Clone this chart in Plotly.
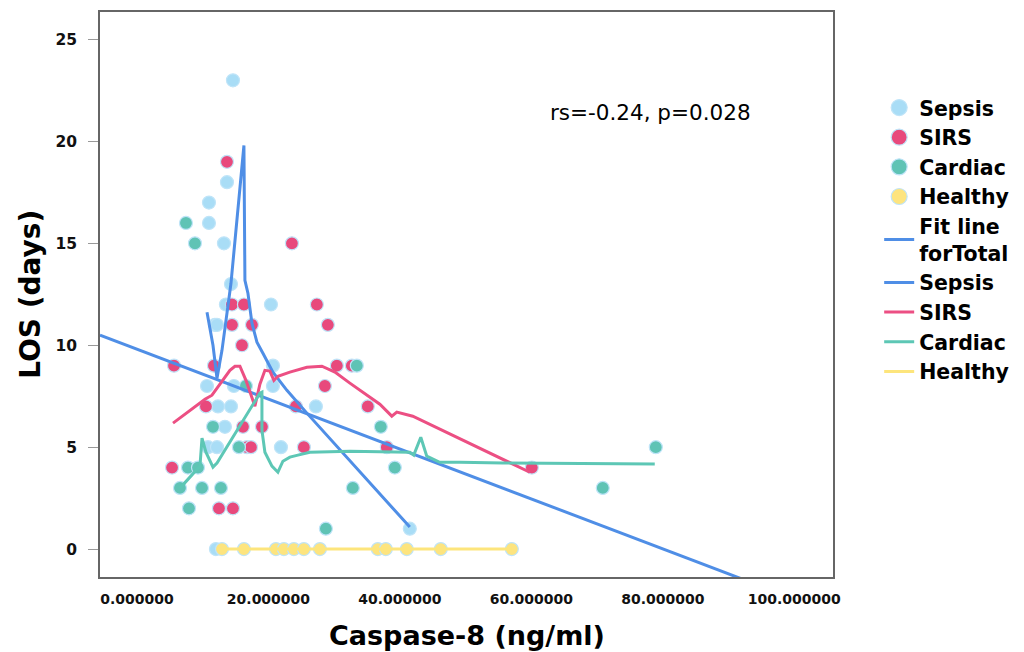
import plotly.graph_objects as go

# ---------------- data ----------------
sepsis_x = [14.60, 13.69, 10.95, 10.95, 13.23, 14.30, 13.53, 20.38, 11.86, 12.17,
            20.68, 10.65, 14.74, 20.68, 12.32, 14.30, 27.22, 13.38, 10.80, 12.17,
            21.90, 41.51, 12.01]
sepsis_y = [23, 18, 17, 16, 15, 13, 12, 12, 11, 11,
            9, 8, 8, 8, 7, 7, 7, 6, 5, 5,
            5, 1, 0]

sirs_x = [13.69, 23.57, 14.45, 16.27, 27.37, 14.45, 17.49, 29.04, 15.97, 5.63,
          11.71, 30.41, 32.69, 28.59, 10.49, 24.18, 35.12, 16.12, 19.01, 16.73,
          17.34, 25.39, 38.01, 5.33, 60.08, 12.47, 14.60]
sirs_y = [19, 15, 12, 12, 12, 11, 11, 11, 10, 9,
          9, 9, 9, 8, 7, 7, 7, 6, 6, 5,
          5, 5, 5, 4, 4, 2, 2]

cardiac_x = [7.45, 8.82, 33.45, 16.58, 11.56, 37.10, 15.51, 78.94, 7.76, 9.28,
             39.23, 6.54, 9.89, 12.77, 32.84, 70.87, 7.91, 28.74]
cardiac_y = [16, 15, 9, 8, 6, 6, 5, 5, 4, 4,
             4, 3, 3, 3, 3, 3, 2, 1]

healthy_x = [12.93, 16.27, 21.14, 22.35, 23.87, 25.39, 27.83, 36.64, 37.86, 41.05,
             46.22, 57.03]
healthy_y = [0, 0, 0, 0, 0, 0, 0, 0, 0, 0, 0, 0]

# smoothed (loess-like) group curves
sepsis_fit_x = [10.65, 11.56, 12.17, 12.93, 14.30, 16.27, 16.42, 16.88, 17.49, 18.25,
                19.16, 20.68, 22.81, 25.85, 41.51]
sepsis_fit_y = [11.62, 10.0, 8.38, 9.75, 13.04, 19.80, 13.19, 12.55, 11.08, 10.15,
                9.61, 8.68, 7.79, 6.67, 1.08]

sirs_fit_x = [5.48, 8.06, 10.34, 11.41, 14.14, 14.90, 15.66, 16.58, 17.94, 18.70,
              19.46, 20.22, 20.83, 21.44, 23.26, 25.85, 28.13, 30.11, 32.39, 36.95,
              38.77, 39.53, 41.96, 59.77]
sirs_fit_y = [6.18, 6.81, 7.35, 7.55, 8.77, 8.97, 8.97, 8.28, 7.01, 8.09,
              8.77, 8.73, 8.28, 8.48, 8.68, 8.92, 8.97, 8.68, 8.14, 7.11,
              6.52, 6.72, 6.52, 3.77]

cardiac_fit_x = [6.54, 9.58, 9.89, 10.49, 11.56, 12.17, 18.70, 19.01, 19.01, 19.46,
                 20.53, 21.44, 22.20, 23.26, 24.48, 26.30, 32.39, 41.51, 42.11, 43.18,
                 44.09, 46.07, 49.11, 55.67, 78.78]
cardiac_fit_y = [2.99, 4.07, 5.44, 4.75, 4.02, 4.22, 7.65, 7.70, 5.83, 4.75,
                 4.07, 3.77, 4.31, 4.51, 4.61, 4.75, 4.80, 4.75, 4.61, 5.49,
                 4.56, 4.26, 4.26, 4.22, 4.17]

# total linear fit
fit_intercept = 9.81
fit_slope = -0.1225

x_range = [-5.63, 105.9]
y_range = [-1.37, 26.35]
x_ticks = [0, 20, 40, 60, 80, 100]
y_ticks = [0, 5, 10, 15, 20, 25]

annotation_text = "rs=-0.24, p=0.028"

# ---------------- styling ----------------
C_SEPSIS = "#a9ddf6"
C_SIRS = "#e8497c"
C_CARDIAC = "#5fc3b5"
C_HEALTHY = "#fde47f"
L_BLUE = "#4f8ee6"
L_SIRS = "#ec4f83"
L_CARDIAC = "#5dc7b5"
L_HEALTHY = "#fde57c"
OUTLINE = "#bfe4f8"
FONT = "DejaVu Sans"

fig = go.Figure()

groups = [("Sepsis", sepsis_x, sepsis_y, C_SEPSIS),
          ("SIRS", sirs_x, sirs_y, C_SIRS),
          ("Cardiac", cardiac_x, cardiac_y, C_CARDIAC),
          ("Healthy", healthy_x, healthy_y, C_HEALTHY)]

# legend entries for the point groups (larger symbols, as in the reference)
for name, x, y, color in groups:
    fig.add_trace(go.Scatter(
        x=[None], y=[None], mode="markers", name=name,
        marker=dict(size=22, color=color, line=dict(color=OUTLINE, width=1.2)),
    ))

for name, x, y, color in groups:
    fig.add_trace(go.Scatter(
        x=x, y=y, mode="markers", name=name, showlegend=False,
        marker=dict(size=13, color=color, line=dict(color=OUTLINE, width=1.2)),
    ))

fit_x = [x_range[0], x_range[1]]
fit_y = [fit_intercept + fit_slope * v for v in fit_x]
fig.add_trace(go.Scatter(x=fit_x, y=fit_y, mode="lines", name="Fit line<br>forTotal",
                         line=dict(color=L_BLUE, width=3)))

def curve(x, y, color, name):
    fig.add_trace(go.Scatter(x=x, y=y, mode="lines", name=name,
                             line=dict(color=color, width=3)))

curve(sepsis_fit_x, sepsis_fit_y, L_BLUE, "Sepsis")
curve(sirs_fit_x, sirs_fit_y, L_SIRS, "SIRS")
curve(cardiac_fit_x, cardiac_fit_y, L_CARDIAC, "Cardiac")
curve([min(healthy_x), max(healthy_x)], [healthy_y[0], healthy_y[-1]], L_HEALTHY, "Healthy")

fig.update_layout(
    width=1008, height=644,
    margin=dict(l=92, r=183, t=4, b=75, autoexpand=False),
    paper_bgcolor="white", plot_bgcolor="white",
    showlegend=True,
    legend=dict(
        x=1.063, y=0.866, xanchor="left", yanchor="top",
        font=dict(family=FONT, size=20.5, color="black", weight="bold"),
        bgcolor="rgba(0,0,0,0)", tracegroupgap=0, itemwidth=30,
    ),
    xaxis=dict(
        range=x_range, tickvals=x_ticks,
        ticktext=[f"{v:.6f}" for v in x_ticks],
        showgrid=False, zeroline=False,
        showline=True, mirror=True, linecolor="#666666", linewidth=1.5,
        ticks="", ticklabelstandoff=8,
        tickfont=dict(family=FONT, size=14, color="#111111", weight="bold"),
    ),
    yaxis=dict(
        range=y_range, tickvals=y_ticks,
        showgrid=False, zeroline=False,
        showline=True, mirror=True, linecolor="#666666", linewidth=1.5,
        ticks="outside", ticklen=10, tickcolor="#999999", tickwidth=1,
        ticklabelstandoff=8,
        tickfont=dict(family=FONT, size=15.5, color="#111111", weight="bold"),
    ),
    annotations=[
        dict(text=annotation_text, xref="paper", yref="paper", x=0.611, y=0.823,
             xanchor="left", yanchor="middle", showarrow=False,
             font=dict(family=FONT, size=21.5, color="black")),
        dict(text="Caspase-8 (ng/ml)", xref="paper", yref="paper", x=0.5, y=-0.103,
             xanchor="center", yanchor="middle", showarrow=False,
             font=dict(family=FONT, size=27, color="black", weight="bold")),
        dict(text="LOS (days)", xref="paper", yref="paper", x=-0.095, y=0.5,
             xanchor="center", yanchor="middle", showarrow=False, textangle=-90,
             font=dict(family=FONT, size=28, color="black", weight="bold")),
    ],
)

fig.write_html("out.html")
